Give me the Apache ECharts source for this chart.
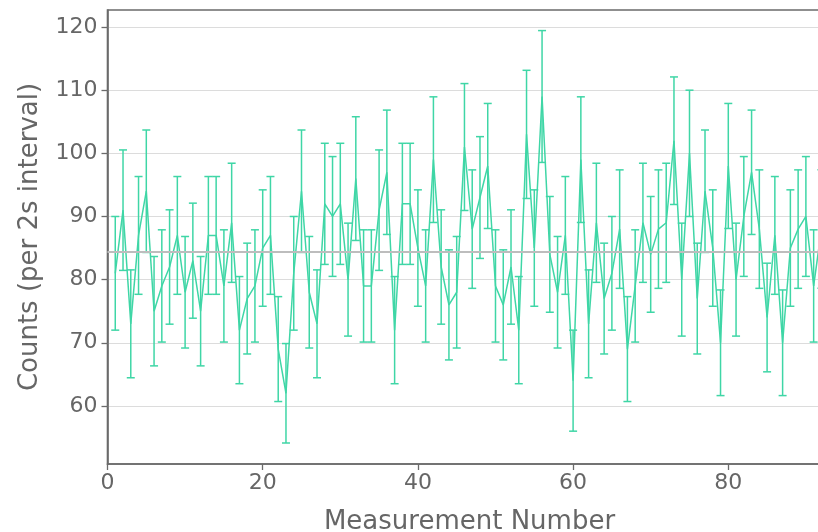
<!DOCTYPE html>
<html>
<head>
<meta charset="utf-8">
<script src="https://cdn.jsdelivr.net/npm/echarts@6/dist/echarts.min.js"></script>
<style>
  html, body { margin: 0; padding: 0; background: #ffffff; }
  #chart { width: 818px; height: 532px; }
</style>
</head>
<body>
<div id="chart"></div>
<script>
const counts = [
  81, 91, 73, 87, 94, 75, 79, 82, 87, 78, 83, 75, 87, 87, 79,
  89, 72, 77, 79, 85, 87, 69, 62, 81, 94, 78, 73, 92, 90, 92, 80,
  96, 79, 79, 91, 97, 72, 92, 92, 85, 79, 99, 82, 76, 78, 101,
  88, 93, 98, 79, 76, 82, 72, 103, 85, 109, 84, 78, 87, 64, 99, 73,
  89, 77, 81, 88, 69, 79, 89, 84, 88, 89, 102, 80, 100, 77, 94,
  85, 70, 98, 80, 90, 97, 88, 74, 87, 70, 85, 88, 90, 79, 88
];
const measurementNumbers = counts.map((_, i) => i + 1);
const meanCount = 84.4;
const yTicks = [60, 70, 80, 90, 100, 110, 120];
const xTicks = [0, 20, 40, 60, 80];

const lineColor = '#3fd6a6';
const textColor = '#666666';
const spineColor = '#6b6b6b';
const fontFamily = '"DejaVu Sans", sans-serif';

const lineData = counts.map((c, i) => [measurementNumbers[i], c]);
// Poisson uncertainty: sqrt(N)
const errData = counts.map((c, i) => [measurementNumbers[i], c - Math.sqrt(c), c + Math.sqrt(c)]);

const chart = echarts.init(document.getElementById('chart'), null, { renderer: 'canvas' });

const option = {
  animation: false,
  backgroundColor: '#ffffff',
  grid: {
    left: 107.5, top: 10, width: 724, height: 454,
    outerBoundsMode: 'none',
    show: true, borderColor: spineColor, borderWidth: 1.6, backgroundColor: 'transparent',
    containLabel: false
  },
  xAxis: {
    type: 'value', min: 0, max: 93.3, interval: 20,
    name: 'Measurement Number', nameLocation: 'middle', nameGap: 45,
    nameTextStyle: { color: textColor, fontSize: 26, fontFamily: fontFamily },
    axisLine: { show: true, lineStyle: { color: spineColor, width: 1.6 } },
    axisTick: { show: true, length: 6, lineStyle: { color: spineColor, width: 1.3 }, customValues: xTicks },
    axisLabel: { color: textColor, fontSize: 22, fontFamily: fontFamily, margin: 8, customValues: xTicks },
    splitLine: { show: false }
  },
  yAxis: {
    type: 'value', min: 50.8, max: 122.7, splitNumber: 7,
    name: 'Counts (per 2s interval)', nameLocation: 'middle', nameGap: 64,
    nameTextStyle: { color: textColor, fontSize: 26, fontFamily: fontFamily },
    axisLine: { show: true, lineStyle: { color: spineColor, width: 1.6 } },
    axisTick: { show: true, length: 6, lineStyle: { color: spineColor, width: 1.3 }, customValues: yTicks },
    axisLabel: { color: textColor, fontSize: 22, fontFamily: fontFamily, margin: 10, customValues: yTicks },
    splitLine: { show: true, lineStyle: { color: '#dcdcdc', width: 1.2 } }
  },
  series: [
    {
      type: 'line', data: [], z: 1, silent: true,
      markLine: {
        silent: true, symbol: 'none', animation: false,
        label: { show: false },
        lineStyle: { color: '#bdbdbd', width: 2, type: 'solid' },
        data: [{ yAxis: meanCount }]
      }
    },
    {
      type: 'custom', z: 3, data: errData, clip: true,
      renderItem: function (params, api) {
        const x = api.value(0), lo = api.value(1), hi = api.value(2);
        const pHi = api.coord([x, hi]);
        const pLo = api.coord([x, lo]);
        const hw = 4;
        const style = { stroke: lineColor, lineWidth: 1.5 };
        return {
          type: 'group',
          children: [
            { type: 'line', shape: { x1: pHi[0], y1: pHi[1], x2: pLo[0], y2: pLo[1] }, style: style },
            { type: 'line', shape: { x1: pHi[0] - hw, y1: pHi[1], x2: pHi[0] + hw, y2: pHi[1] }, style: style },
            { type: 'line', shape: { x1: pLo[0] - hw, y1: pLo[1], x2: pLo[0] + hw, y2: pLo[1] }, style: style }
          ]
        };
      }
    },
    {
      type: 'line', z: 4, data: lineData, symbol: 'none', smooth: false,
      lineStyle: { color: lineColor, width: 1.5 }, itemStyle: { color: lineColor }
    }
  ]
};
chart.setOption(option);
</script>
</body>
</html>
